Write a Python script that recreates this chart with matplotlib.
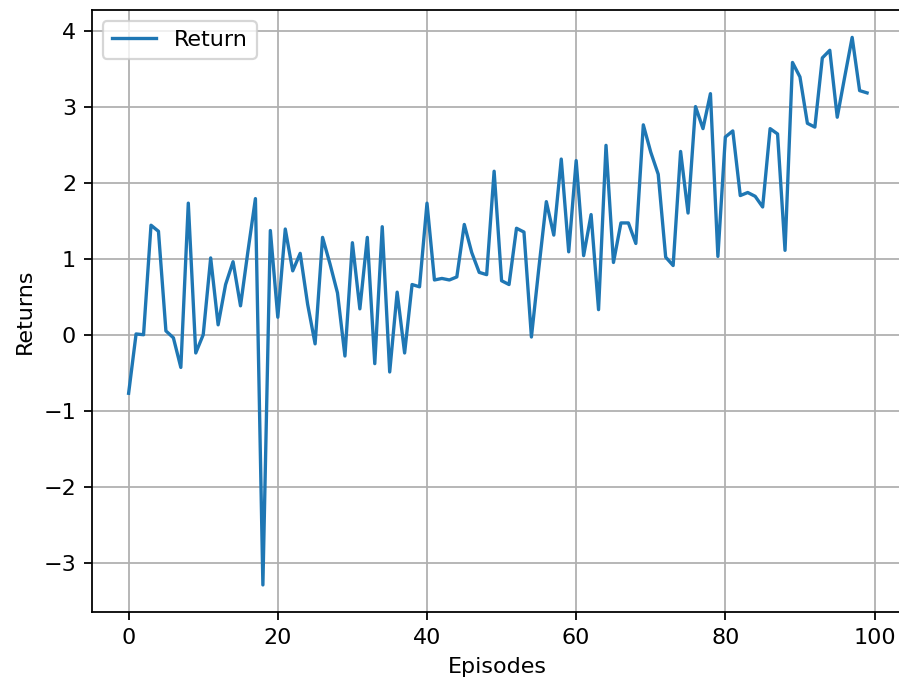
import matplotlib
matplotlib.use("Agg")
import matplotlib.pyplot as plt
import numpy as np

episodes = np.arange(100)
returns = [
    -0.77, 0.01, 0.00, 1.44, 1.36, 0.05, -0.04, -0.43, 1.73, -0.24,
    0.00, 1.01, 0.13, 0.66, 0.96, 0.38, 1.10, 1.79, -3.29, 1.37,
    0.23, 1.39, 0.84, 1.07, 0.40, -0.12, 1.28, 0.93, 0.55, -0.28,
    1.21, 0.34, 1.28, -0.38, 1.42, -0.49, 0.56, -0.24, 0.66, 0.63,
    1.73, 0.72, 0.74, 0.72, 0.76, 1.45, 1.08, 0.82, 0.79, 2.15,
    0.71, 0.66, 1.40, 1.35, -0.03, 0.88, 1.75, 1.31, 2.31, 1.09,
    2.29, 1.04, 1.58, 0.33, 2.49, 0.95, 1.47, 1.47, 1.20, 2.76,
    2.40, 2.11, 1.02, 0.91, 2.41, 1.60, 3.00, 2.71, 3.17, 1.03,
    2.60, 2.68, 1.83, 1.87, 1.82, 1.68, 2.71, 2.64, 1.11, 3.58,
    3.39, 2.78, 2.73, 3.64, 3.74, 2.86, 3.39, 3.91, 3.21, 3.18,
]

dpi = 160
fig = plt.figure(figsize=(899 / dpi, 686 / dpi), dpi=dpi)
ax = fig.add_subplot(111)
fig.subplots_adjust(left=91.7 / 899, right=904 / 899,
                    top=1 - 10 / 686, bottom=1 - 612.3 / 686)

ax.plot(episodes, returns, label="Return")
ax.set_xlabel("Episodes")
ax.set_ylabel("Returns")
ax.grid(True)
ax.legend(loc="upper left")

fig.savefig("out.png", dpi=dpi)
